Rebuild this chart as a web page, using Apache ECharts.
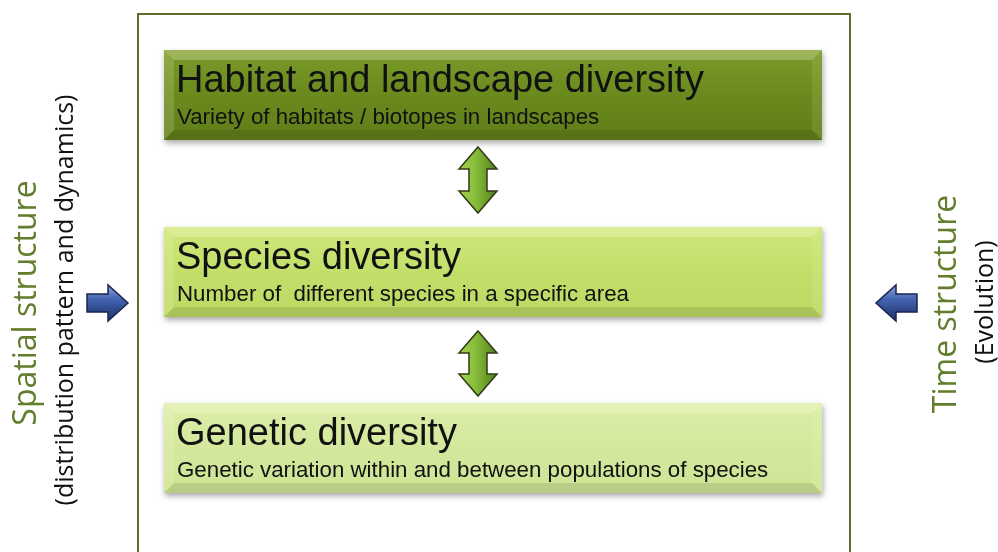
<!DOCTYPE html>
<html>
<head>
<meta charset="utf-8">
<script src="https://cdn.jsdelivr.net/npm/echarts@6/dist/echarts.min.js"></script>
<style>
html,body{margin:0;padding:0;background:#fff;}
#chart{width:998px;height:552px;}
</style>
</head>
<body>
<div id="chart"></div>
<script>
// ---- content ----
const boxTitles = ['Habitat and landscape diversity', 'Species diversity', 'Genetic diversity'];
const boxSubtitles = [
  'Variety of habitats / biotopes in landscapes',
  'Number of  different species in a specific area',
  'Genetic variation within and between populations of species'
];
const leftTitle = 'Spatial structure';
const leftSubtitle = '(distribution pattern and dynamics)';
const rightTitle = 'Time structure';
const rightSubtitle = '(Evolution)';

// ---- layout & style ----
const boxX = 164, boxW = 658, boxH = 90;
const boxTops = [50, 227, 403];
const boxFills = [
  ['#7a9a2a', '#6a8a1e', '#5f7d18'],
  ['#cde77a', '#c3df6a', '#bcd964'],
  ['#dcedaa', '#d3e89c', '#cde496']
];
const bevel = 10;
const titleFont = '"Liberation Sans", Arial, sans-serif';
const sideFont = '"Open Sans", sans-serif';
const sideGreen = '#627d2c';

const els = [];

// outer frame
els.push({
  type: 'rect', shape: { x: 138, y: 14, width: 712, height: 560 },
  style: { fill: 'none', stroke: '#5b6f2b', lineWidth: 2 }, z: 1
});

function boxEls(i) {
  const x = boxX, y = boxTops[i], w = boxW, h = boxH, b = bevel;
  const c = boxFills[i];
  const out = [];
  out.push({
    type: 'rect', shape: { x, y, width: w, height: h },
    style: {
      fill: { type: 'linear', x: 0, y: 0, x2: 0, y2: 1,
        colorStops: [{ offset: 0, color: c[0] }, { offset: 0.5, color: c[1] }, { offset: 1, color: c[2] }] },
      shadowBlur: 6, shadowOffsetY: 3, shadowOffsetX: 1, shadowColor: 'rgba(0,0,0,0.35)'
    }, z: 2
  });
  out.push({ type: 'polygon', shape: { points: [[x, y], [x + w, y], [x + w - b, y + b], [x + b, y + b]] },
    style: { fill: 'rgba(255,255,220,0.28)' }, z: 3 });
  out.push({ type: 'polygon', shape: { points: [[x, y], [x + b, y + b], [x + b, y + h - b], [x, y + h]] },
    style: { fill: 'rgba(255,255,220,0.16)' }, z: 3 });
  out.push({ type: 'polygon', shape: { points: [[x + w, y], [x + w, y + h], [x + w - b, y + h - b], [x + w - b, y + b]] },
    style: { fill: 'rgba(255,255,220,0.10)' }, z: 3 });
  out.push({ type: 'polygon', shape: { points: [[x, y + h], [x + w, y + h], [x + w - b, y + h - b], [x + b, y + h - b]] },
    style: { fill: 'rgba(0,0,0,0.10)' }, z: 3 });
  out.push({ type: 'text', x: 176, y: y + 32, z: 4,
    style: { text: boxTitles[i], font: '38px ' + titleFont, fill: '#111', verticalAlign: 'middle', align: 'left' } });
  out.push({ type: 'text', x: 177, y: y + 68, z: 4,
    style: { text: boxSubtitles[i], font: '22.3px ' + titleFont, fill: '#111', verticalAlign: 'middle', align: 'left' } });
  return out;
}
for (let i = 0; i < boxTitles.length; i++) els.push(...boxEls(i));

// green double arrows
function doubleArrow(cx, y0, y1) {
  const hw = 19, sw = 9, hl = 22;
  return {
    type: 'polygon', z: 5,
    shape: { points: [[cx, y0], [cx + hw, y0 + hl], [cx + sw, y0 + hl], [cx + sw, y1 - hl], [cx + hw, y1 - hl],
      [cx, y1], [cx - hw, y1 - hl], [cx - sw, y1 - hl], [cx - sw, y0 + hl], [cx - hw, y0 + hl]] },
    style: {
      fill: { type: 'linear', x: 0, y: 0, x2: 1, y2: 0,
        colorStops: [{ offset: 0, color: '#a6d655' }, { offset: 0.45, color: '#86bb38' }, { offset: 1, color: '#4f7c18' }] },
      stroke: '#2e3b14', lineWidth: 1.5, lineJoin: 'miter'
    }
  };
}
els.push(doubleArrow(478, 147, 213));
els.push(doubleArrow(478, 331, 396));

// blue arrows
function blueArrow(x0, x1, yc, dir) {
  const hh = 18, sh = 9, hl = 20;
  let pts;
  if (dir > 0) {
    pts = [[x0, yc - sh], [x1 - hl, yc - sh], [x1 - hl, yc - hh], [x1, yc], [x1 - hl, yc + hh], [x1 - hl, yc + sh], [x0, yc + sh]];
  } else {
    pts = [[x1, yc - sh], [x0 + hl, yc - sh], [x0 + hl, yc - hh], [x0, yc], [x0 + hl, yc + hh], [x0 + hl, yc + sh], [x1, yc + sh]];
  }
  return {
    type: 'polygon', z: 5, shape: { points: pts },
    style: {
      fill: { type: 'linear', x: 0, y: 0, x2: 0, y2: 1,
        colorStops: [{ offset: 0, color: '#8ea6e0' }, { offset: 0.4, color: '#4363b0' }, { offset: 1, color: '#1c2d66' }] },
      stroke: '#1a2350', lineWidth: 1.5
    }
  };
}
els.push(blueArrow(87, 128, 303, 1));
els.push(blueArrow(876, 917, 303, -1));

// side texts (rotated, reading bottom to top)
function vText(txt, x, y, size, color) {
  return { type: 'text', x, y, rotation: Math.PI / 2, z: 5,
    style: { text: txt, font: size + 'px ' + sideFont, fill: color, align: 'center', verticalAlign: 'middle' } };
}
els.push(vText(leftTitle, 27, 303, 32, sideGreen));
els.push(vText(leftSubtitle, 66, 300, 25, '#111'));
els.push(vText(rightTitle, 947, 304, 32, sideGreen));
els.push(vText(rightSubtitle, 986, 302, 25, '#111'));

const chart = echarts.init(document.getElementById('chart'), null, { renderer: 'canvas' });
chart.setOption({
  backgroundColor: '#ffffff',
  animation: false,
  graphic: { elements: els }
});
</script>
</body>
</html>
